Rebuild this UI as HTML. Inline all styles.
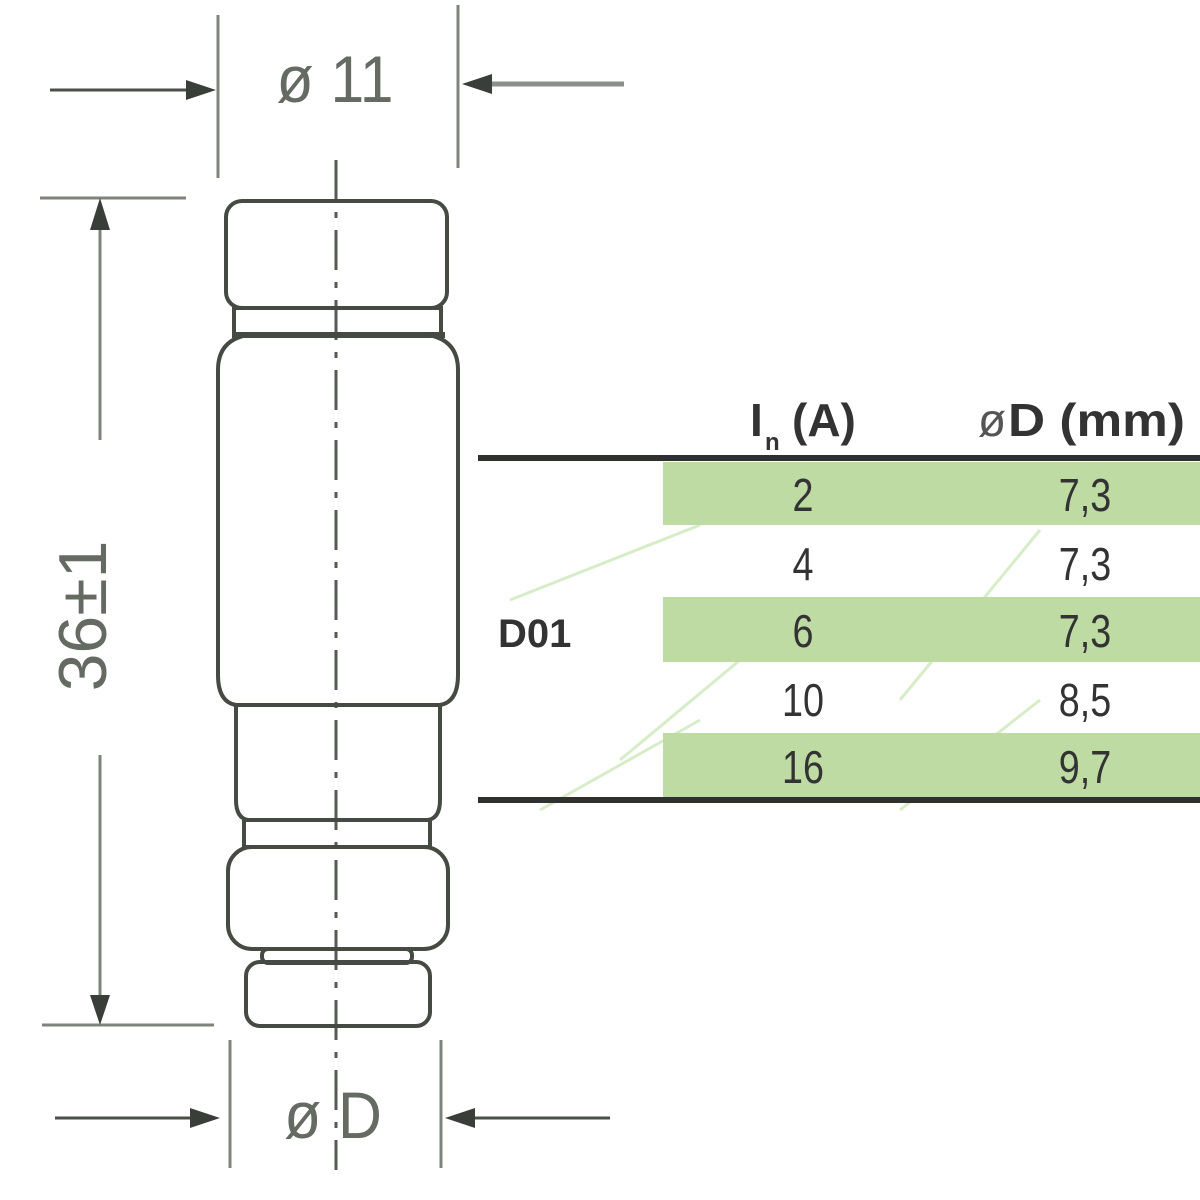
<!DOCTYPE html>
<html><head><meta charset="utf-8"><style>
html,body{margin:0;padding:0;background:#fff;width:1200px;height:1200px;overflow:hidden}
svg{display:block}
</style></head><body>
<svg width="1200" height="1200" viewBox="0 0 1200 1200" xmlns="http://www.w3.org/2000/svg" font-family="Liberation Sans, sans-serif">
<g stroke="#7d857b" stroke-width="3" fill="none">
 <line x1="218" y1="15" x2="218" y2="178"/>
 <line x1="458" y1="5" x2="458" y2="168"/>
 <line x1="40" y1="198" x2="186" y2="198"/>
 <line x1="42" y1="1025" x2="214" y2="1025"/>
 <line x1="100" y1="205" x2="100" y2="440"/>
 <line x1="100" y1="755" x2="100" y2="1020"/>
 <line x1="230" y1="1040" x2="230" y2="1168"/>
 <line x1="441" y1="1040" x2="441" y2="1168"/>
</g>
<g stroke="#4a4f48" stroke-width="3">
 <line x1="50" y1="90" x2="190" y2="90"/>
 <line x1="490" y1="84" x2="624" y2="84" stroke="#8a9088" stroke-width="5"/>
 <line x1="55" y1="1118" x2="195" y2="1118"/>
 <line x1="470" y1="1118" x2="610" y2="1118"/>
</g>
<g fill="#3a3e38">
 <polygon points="186,80 216,90 186,100"/>
 <polygon points="492,74 462,84 492,94"/>
 <polygon points="190,1108 220,1118 190,1128"/>
 <polygon points="475,1108 445,1118 475,1128"/>
 <polygon points="90,230 100,198 110,230"/>
 <polygon points="90,995 100,1025 110,995"/>
</g>
<line x1="336" y1="160" x2="336" y2="1170" stroke="#555a53" stroke-width="3" stroke-dasharray="40,12,6,12"/>
<g stroke="#454a43" stroke-width="4" fill="none">
 <rect x="226" y="201" width="221" height="107" rx="16"/>
 <rect x="234" y="308" width="207" height="27"/>
 <line x1="232" y1="335" x2="445" y2="335" stroke-width="6"/>
 <path d="M248,335 H428 Q458,340 458,370 V675 Q458,702 440,705 H236 Q218,702 218,675 V370 Q218,340 248,335 Z"/>
 <path d="M236,705 V800 Q236,818 248,820 H428 Q440,818 440,800 V705"/>
 <rect x="244" y="820" width="186" height="27"/>
 <rect x="228" y="847" width="220" height="102" rx="24"/>
 <rect x="262" y="949" width="150" height="14" rx="6"/>
 <rect x="246" y="962" width="184" height="64" rx="14"/>
</g>
<g fill="#656b63" font-size="66">
 <text x="335" y="102" text-anchor="middle" transform="translate(335 0) scale(0.92 1) translate(-335 0)">ø 11</text>
 <text x="333" y="1138" text-anchor="middle" transform="translate(333 0) scale(0.92 1) translate(-333 0)">ø D</text>
 <text transform="translate(106 616) rotate(-90) scale(1 1)" text-anchor="middle" font-size="68">36±1</text>
</g>
<g stroke="#d7ecc8" stroke-width="3" fill="none">
 <path d="M540,810 L700,720"/><path d="M510,600 L700,525"/>
 <path d="M900,810 L1040,700"/><path d="M900,700 L1040,530"/>
 <path d="M620,760 L740,660"/>
</g>
<g fill="#bddba2">
 <rect x="663" y="462" width="537" height="63"/>
 <rect x="663" y="597" width="537" height="65"/>
 <rect x="663" y="733" width="537" height="64"/>
</g>
<rect x="478" y="455" width="722" height="6" fill="#2f312e"/>
<rect x="478" y="797" width="722" height="6" fill="#2f312e"/>
<g fill="#333" font-weight="bold" font-size="46">
 <text x="750" y="436">I</text>
 <text x="765" y="450" font-size="24">n</text>
 <text x="792" y="436">(A)</text>
 <text x="978" y="436" font-weight="normal" fill="#555">ø</text>
 <text x="1008" y="436" textLength="177" lengthAdjust="spacingAndGlyphs">D (mm)</text>
 <text x="498" y="647" font-size="40">D01</text>
</g>
<g fill="#333" font-size="46" text-anchor="middle">
 <g transform="translate(803 0) scale(0.82 1)">
  <text x="0" y="511">2</text><text x="0" y="580">4</text><text x="0" y="647">6</text><text x="0" y="716">10</text><text x="0" y="783">16</text>
 </g>
 <g transform="translate(1085 0) scale(0.82 1)">
  <text x="0" y="511">7,3</text><text x="0" y="580">7,3</text><text x="0" y="647">7,3</text><text x="0" y="716">8,5</text><text x="0" y="783">9,7</text>
 </g>
</g>
</svg>
</body></html>
